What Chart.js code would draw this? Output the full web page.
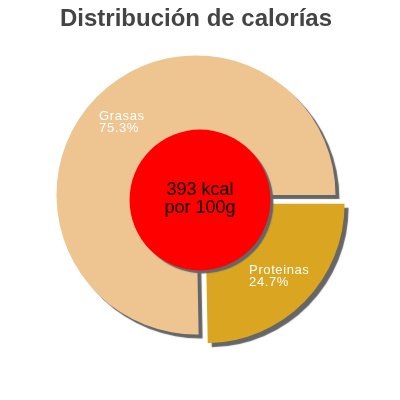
<!DOCTYPE html>
<html>
<head>
<meta charset="utf-8">
<script src="https://cdn.jsdelivr.net/npm/chart.js@4.4.0/dist/chart.umd.min.js"></script>
<style>
  body { margin: 0; background: #fff; }
  #wrap { width: 400px; height: 400px; }
</style>
</head>
<body>
<div id="wrap"><canvas id="calChart"></canvas></div>
<script>
// Data
const categories = ['Proteinas', 'Grasas'];
const percents = [24.7, 75.3];
const sliceColors = ['#DAA520', '#EEC591'];
const explode = [51, 0]; // arc offset (chart.js divides by 4)
const centreLines = ['393 kcal', 'por 100g'];
const titleText = 'Distribución de calorías';

// drop shadow under the slices
const shadowPlugin = {
    id: 'sliceShadow',
    beforeDatasetsDraw(chart) {
        const ctx = chart.ctx;
        ctx.save();
        ctx.shadowColor = '#666';
        ctx.shadowOffsetX = 4;
        ctx.shadowOffsetY = 4;
        ctx.shadowBlur = 1;
    },
    afterDatasetsDraw(chart) {
        chart.ctx.restore();
    }
};

// red disc in the middle + labels on the slices
const centrePlugin = {
    id: 'centreDisc',
    afterDatasetsDraw(chart) {
        const ctx = chart.ctx;
        const arcs = chart.getDatasetMeta(0).data;
        const r = arcs[0].outerRadius;

        // disc
        const cx = chart.width / 2;
        const cy = chart.height / 2;
        ctx.save();
        ctx.shadowColor = '#666';
        ctx.shadowOffsetX = 3;
        ctx.shadowOffsetY = 3;
        ctx.shadowBlur = 1;
        ctx.fillStyle = '#FF0000';
        ctx.beginPath();
        ctx.arc(cx, cy, r * 0.505, 0, Math.PI * 2);
        ctx.fill();
        ctx.restore();

        ctx.save();
        ctx.fillStyle = '#000';
        ctx.font = '18px "Liberation Sans", Arial, sans-serif';
        ctx.textAlign = 'center';
        ctx.textBaseline = 'middle';
        ctx.fillText(centreLines[0], cx, cy - 10);
        ctx.fillText(centreLines[1], cx, cy + 8);
        ctx.restore();

        // slice labels
        ctx.save();
        ctx.fillStyle = '#fff';
        ctx.font = '13px "Liberation Sans", Arial, sans-serif';
        ctx.letterSpacing = '0.6px';
        ctx.textBaseline = 'middle';
        ctx.textAlign = 'left';
        arcs.forEach((arc, i) => {
            const mid = (arc.startAngle + arc.endAngle) / 2;
            const dist = arc.outerRadius * 0.745 + explode[i] / 4;
            const lx = arc.x + Math.cos(mid) * dist;
            const ly = arc.y + Math.sin(mid) * dist;
            const lines = [categories[i], percents[i].toFixed(1) + '%'];
            const w = Math.max(...lines.map(t => ctx.measureText(t).width));
            ctx.fillText(lines[0], lx - w / 2, ly - 6);
            ctx.fillText(lines[1], lx - w / 2, ly + 6);
        });
        ctx.restore();
    }
};

const ctx = document.getElementById('calChart').getContext('2d');
const calChart = new Chart(ctx, {
    type: 'pie',
    data: {
        labels: categories,
        datasets: [{
            data: percents,
            backgroundColor: sliceColors,
            borderWidth: 0,
            offset: explode,
            hoverOffset: 0
        }]
    },
    options: {
        responsive: true,
        maintainAspectRatio: false,
        animation: false,
        rotation: 90,
        radius: 139.5,
        layout: {
            padding: { top: 0, left: 0, right: 8, bottom: 52 }
        },
        plugins: {
            legend: { display: false },
            tooltip: { enabled: false },
            title: {
                display: true,
                text: titleText,
                color: '#444',
                font: { family: '"Liberation Sans", Arial, sans-serif', size: 24, weight: 'bold' },
                padding: { top: 5, bottom: 8 }
            }
        }
    },
    plugins: [shadowPlugin, centrePlugin]
});
</script>
</body>
</html>
